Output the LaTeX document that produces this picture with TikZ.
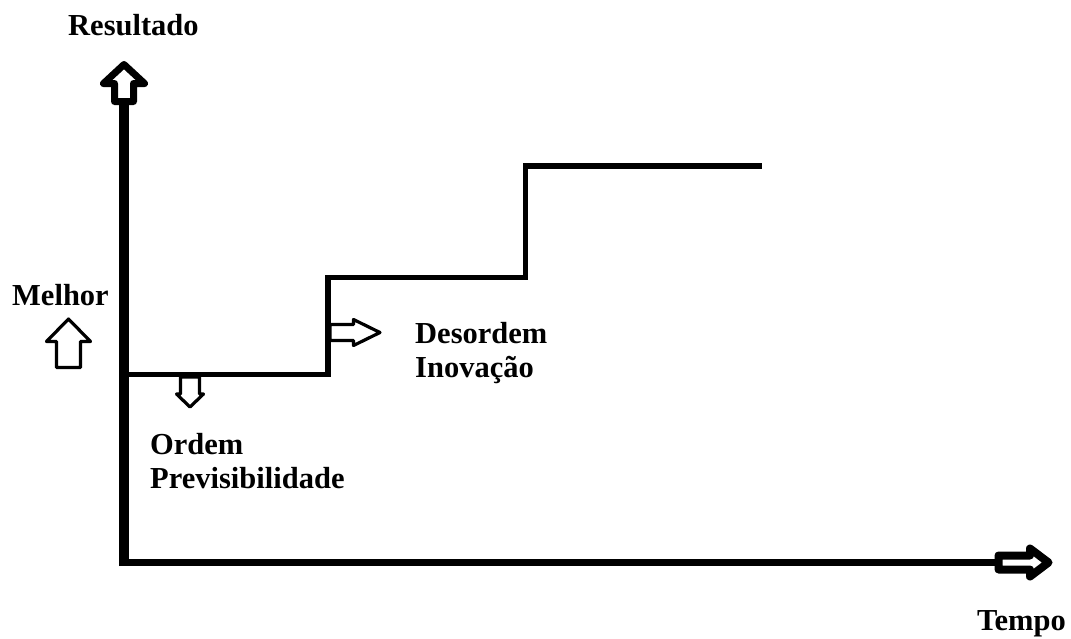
\documentclass[tikz,border=0pt]{standalone}
\usepackage{fontspec}
\setmainfont{Liberation Serif}
\tikzset{
  axisline/.style={line width=#1, line cap=butt, black},
  stepline/.style={line width=5.5pt, line join=miter, line cap=butt, black},
  arrowbody/.style={draw=black, fill=white, line width=#1, line join=round},
  label/.style={font=\fontsize{30.5}{34}\selectfont\bfseries, inner sep=0pt, anchor=base west, align=left}
}
% hollow block arrow: #1 options, #2 tail point, #3 length,
% #4 shaft half-width, #5 head half-width, #6 head length
\newcommand{\blockarr}[6]{%
  \begin{scope}[shift={#2},#1]
    \path[arrowbody={\arrowlw}] (0,-#4) -- ({#3-#6},-#4) -- ({#3-#6},-#5) -- (#3,0)
      -- ({#3-#6},#5) -- ({#3-#6},#4) -- (0,#4) -- cycle;
  \end{scope}}
\newcommand{\arrowlw}{3pt}
\begin{document}
\begin{tikzpicture}[x=1pt,y=1pt]
\useasboundingbox (0,0) rectangle (1071,-638);
\begin{scope}[yscale=-1]
  % axes
  \coordinate (origin) at (124,566);
  \coordinate (ytop) at (124,101.5);
  \coordinate (xorig) at (119,562.5);
  \coordinate (xend) at (998.5,562.5);
  \draw[axisline=10pt] (origin) -- (ytop);
  \draw[axisline=7pt] (xorig) -- (xend);
  \renewcommand{\arrowlw}{7pt}
  \blockarr{rotate=-90}{(ytop)}{37}{9.5}{20.5}{19}
  \renewcommand{\arrowlw}{8pt}
  \blockarr{}{(xend)}{50}{7}{14}{18.5}

  % small markers
  \renewcommand{\arrowlw}{3.2pt}
  \coordinate (melhorarr) at (68.5,367.5);
  \blockarr{rotate=-90}{(melhorarr)}{48.5}{12}{22}{22.5}
  \coordinate (ordemarr) at (190,377);
  \blockarr{rotate=90}{(ordemarr)}{30}{9.5}{13.5}{13}
  \coordinate (desordemarr) at (330,332.5);
  \blockarr{}{(desordemarr)}{50}{8}{13}{26.5}

  % result curve
  \coordinate (s0) at (124,374.5);
  \coordinate (s1) at (328,374.5);
  \coordinate (s2) at (328,277.5);
  \coordinate (s3) at (525.5,277.5);
  \coordinate (s4) at (525.5,166);
  \coordinate (s5) at (762,166);
  \draw[stepline] (s0) -- (s1) -- (s2) -- (s3) -- (s4) -- (s5);

  % labels (base anchor sits on the last line)
  \node[label] (resultado) at (68,35) {Resultado};
  \node[label] (melhor) at (12,305) {Melhor};
  \node[label] (ordem) at (150,488) {Ordem\\Previsibilidade};
  \node[label] (desordem) at (415,377) {Desordem\\Inovação};
  \node[label, anchor=base east] (tempo) at (1066,630) {Tempo};
\end{scope}
\end{tikzpicture}
\end{document}
